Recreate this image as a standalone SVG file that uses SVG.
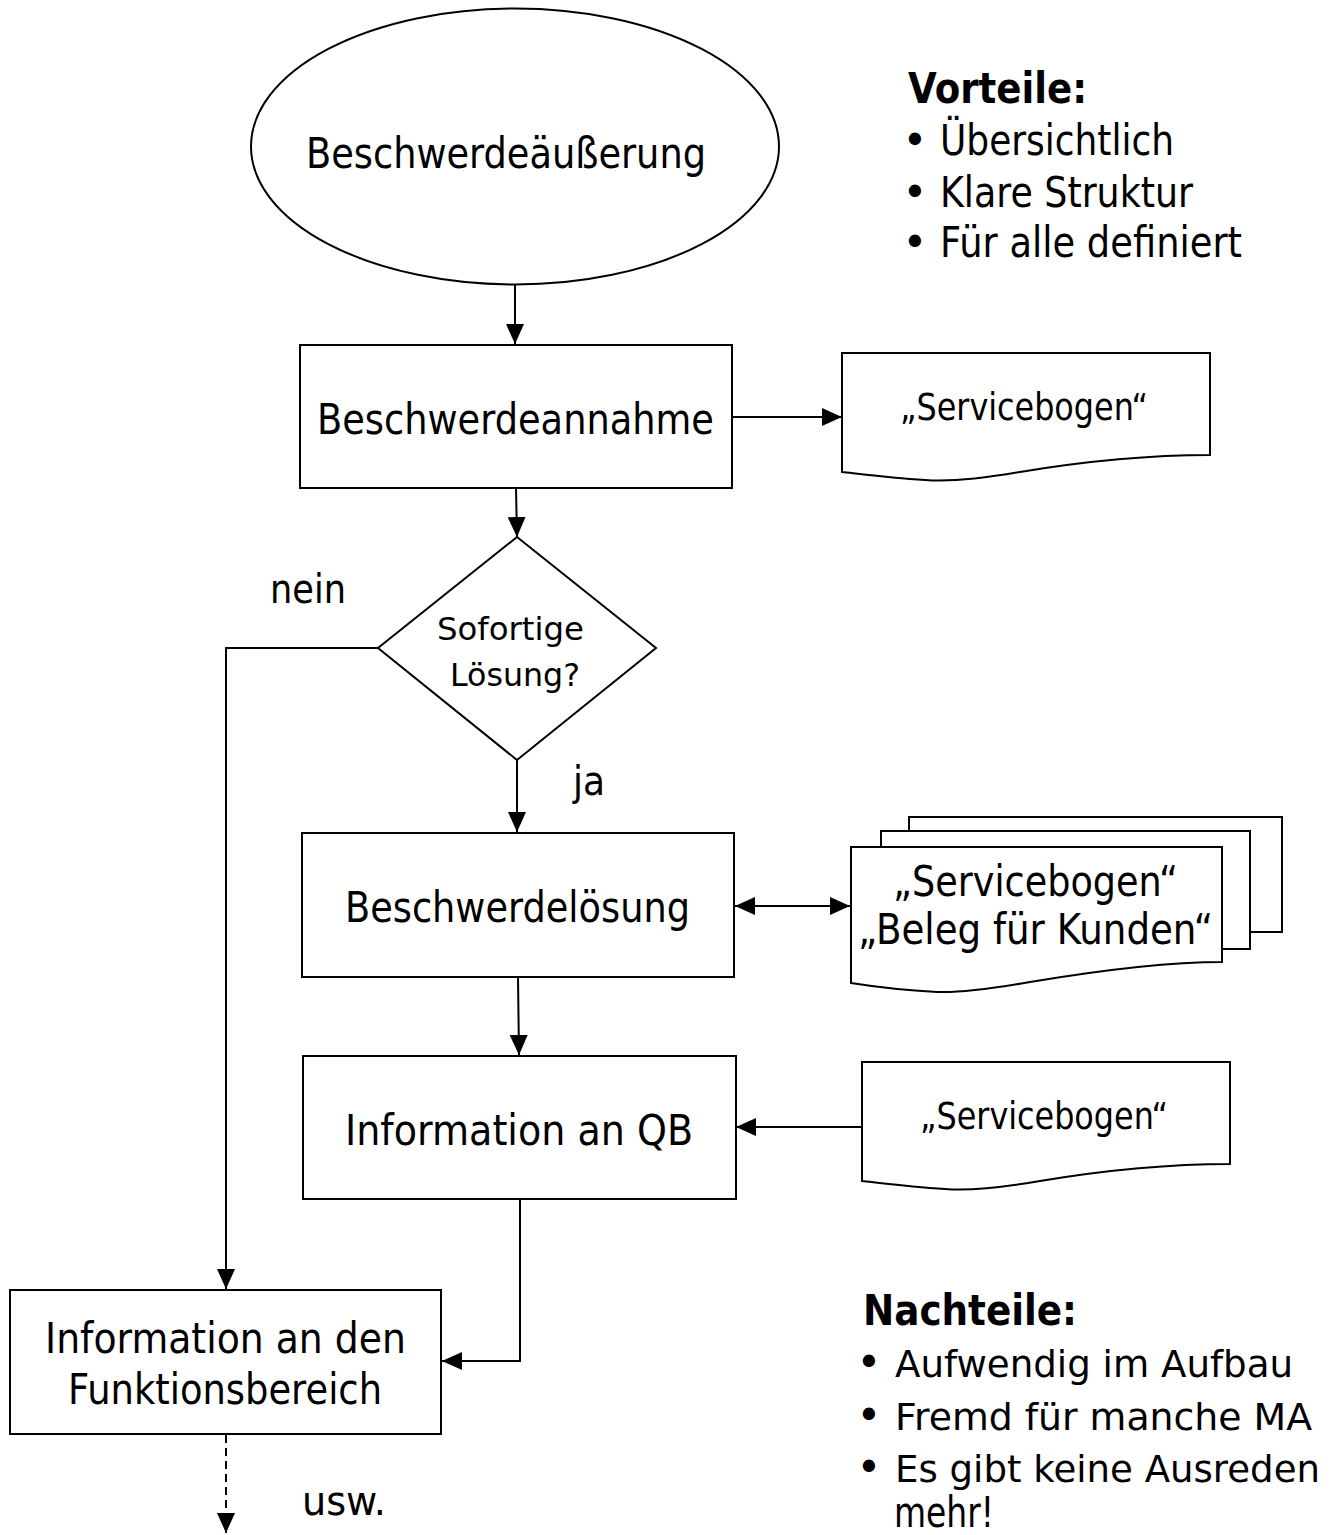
<svg xmlns="http://www.w3.org/2000/svg" width="1338" height="1535" viewBox="0 0 1338 1535">
<style>
text{font-family:"DejaVu Sans","Verdana","Liberation Sans",sans-serif;fill:#000;font-size:42px}
.shape{fill:#fff;stroke:#000;stroke-width:2}
.ln{fill:none;stroke:#000;stroke-width:2}
.dash{stroke-dasharray:8 5}
.doc{font-size:37px}
.dia{font-size:32px}
.lbl{font-size:40px}
.hd{font-weight:bold}
.nt{font-size:38px}
</style>
<defs>
<marker id="ah" markerUnits="userSpaceOnUse" markerWidth="20" markerHeight="18" refX="20" refY="9" orient="auto-start-reverse">
<path d="M0,0 L20,9 L0,18 Z" fill="#000"/>
</marker>
<path id="docshape" d="M0,0 H368 V102 C308,102 238,109 178,119 C138,126 108,129 83,127 C48,125 18,121 0,119 Z"/>
</defs>

<g id="connectors">
<path class="ln" d="M515,285 V344" marker-end="url(#ah)"/>
<path class="ln" d="M732,417 H842" marker-end="url(#ah)"/>
<path class="ln" d="M516,488 L517,537" marker-end="url(#ah)"/>
<path class="ln" d="M378,648 H226 V1289" marker-end="url(#ah)"/>
<path class="ln" d="M517,760 L517,832" marker-end="url(#ah)"/>
<path class="ln" d="M735,906 H850" marker-start="url(#ah)" marker-end="url(#ah)"/>
<path class="ln" d="M518,977 L519,1055" marker-end="url(#ah)"/>
<path class="ln" d="M862,1127 H736" marker-end="url(#ah)"/>
<path class="ln" d="M520,1199 V1361 H442" marker-end="url(#ah)"/>
<path class="ln dash" d="M226,1435 V1533" marker-end="url(#ah)"/>
</g>

<g id="n-beschwerdeaeusserung">
<ellipse class="shape" cx="515" cy="146.5" rx="264" ry="138"/>
<text x="306" y="168" textLength="400" lengthAdjust="spacingAndGlyphs">Beschwerdeäußerung</text>
</g>

<g id="n-beschwerdeannahme">
<rect class="shape" x="300" y="345" width="432" height="143"/>
<text x="317" y="434" textLength="397" lengthAdjust="spacingAndGlyphs">Beschwerdeannahme</text>
</g>

<g id="n-servicebogen1">
<use href="#docshape" class="shape" x="842" y="353"/>
<text class="doc" x="900" y="420" textLength="248" lengthAdjust="spacingAndGlyphs">„Servicebogen“</text>
</g>

<g id="n-sofortige-loesung">
<path class="shape" d="M517,537 L656,648 L517,760 L378,648 Z"/>
<text class="dia" x="437" y="640" textLength="147" lengthAdjust="spacingAndGlyphs">Sofortige</text>
<text class="dia" x="450" y="686" textLength="130" lengthAdjust="spacingAndGlyphs">Lösung?</text>
</g>

<g id="labels">
<text class="lbl" x="270" y="603" textLength="76" lengthAdjust="spacingAndGlyphs">nein</text>
<text class="lbl" x="573" y="795" textLength="32" lengthAdjust="spacingAndGlyphs">ja</text>
<text class="lbl" x="302" y="1515" textLength="84" lengthAdjust="spacingAndGlyphs">usw.</text>
</g>

<g id="n-beschwerdeloesung">
<rect class="shape" x="302" y="833" width="432" height="144"/>
<text x="345" y="922" textLength="345" lengthAdjust="spacingAndGlyphs">Beschwerdelösung</text>
</g>

<g id="n-belege">
<rect class="shape" x="909" y="817" width="373" height="115"/>
<rect class="shape" x="881" y="831" width="369" height="118"/>
<path class="shape" d="M851,847 H1222 V962 C1160,962 1090,972 1030,982 C990,989 960,993 937,992 C900,990 870,986 851,983 Z"/>
<text x="893" y="896" textLength="285" lengthAdjust="spacingAndGlyphs">„Servicebogen“</text>
<text x="858" y="944" textLength="355" lengthAdjust="spacingAndGlyphs">„Beleg für Kunden“</text>
</g>

<g id="n-information-qb">
<rect class="shape" x="303" y="1056" width="433" height="143"/>
<text x="345" y="1145" textLength="348" lengthAdjust="spacingAndGlyphs">Information an QB</text>
</g>

<g id="n-servicebogen2">
<use href="#docshape" class="shape" x="862" y="1062"/>
<text class="doc" x="920" y="1129" textLength="248" lengthAdjust="spacingAndGlyphs">„Servicebogen“</text>
</g>

<g id="n-information-funktionsbereich">
<rect class="shape" x="10" y="1290" width="431" height="144"/>
<text x="45" y="1353" textLength="361" lengthAdjust="spacingAndGlyphs">Information an den</text>
<text x="68" y="1404" textLength="314" lengthAdjust="spacingAndGlyphs">Funktionsbereich</text>
</g>

<g id="vorteile">
<text class="hd" x="908" y="103" textLength="179" lengthAdjust="spacingAndGlyphs">Vorteile:</text>
<text x="915" y="155" text-anchor="middle">•</text>
<text x="940" y="155" textLength="234" lengthAdjust="spacingAndGlyphs">Übersichtlich</text>
<text x="915" y="207" text-anchor="middle">•</text>
<text x="940" y="207" textLength="253" lengthAdjust="spacingAndGlyphs">Klare Struktur</text>
<text x="915" y="257" text-anchor="middle">•</text>
<text x="940" y="257" textLength="302" lengthAdjust="spacingAndGlyphs">Für alle definiert</text>
</g>

<g id="nachteile">
<text class="hd" x="863" y="1325" textLength="214" lengthAdjust="spacingAndGlyphs">Nachteile:</text>
<text x="869" y="1377" text-anchor="middle">•</text>
<text class="nt" x="895" y="1377" textLength="398" lengthAdjust="spacingAndGlyphs">Aufwendig im Aufbau</text>
<text x="869" y="1430" text-anchor="middle">•</text>
<text class="nt" x="895" y="1430" textLength="417" lengthAdjust="spacingAndGlyphs">Fremd für manche MA</text>
<text x="869" y="1482" text-anchor="middle">•</text>
<text class="nt" x="895" y="1482" textLength="425" lengthAdjust="spacingAndGlyphs">Es gibt keine Ausreden</text>
<text x="894" y="1527" textLength="100" lengthAdjust="spacingAndGlyphs">mehr!</text>
</g>
</svg>
